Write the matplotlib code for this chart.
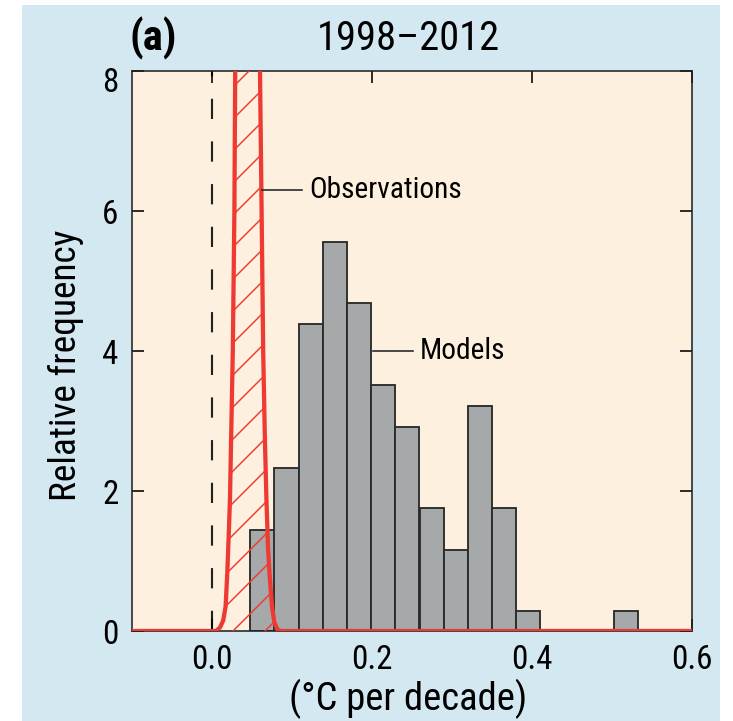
import matplotlib
matplotlib.use("Agg")
from matplotlib import pyplot
from matplotlib.patches import Rectangle
from matplotlib.transforms import ScaledTranslation
import numpy

# model histogram (bin left edges, relative frequency)
bin_left = [0.048, 0.078, 0.109, 0.139, 0.169, 0.199, 0.229, 0.260, 0.290,
            0.320, 0.350, 0.380, 0.502]
bin_width = 0.0302
model_freq = [1.45, 2.33, 4.38, 5.56, 4.69, 3.51, 2.92, 1.76, 1.16,
              3.22, 1.76, 0.29, 0.29]

# observations curve (peak clipped above 8)
obs_x = [-0.10, 0.005, 0.010, 0.014, 0.017, 0.019, 0.021, 0.0225, 0.024,
         0.026, 0.028, 0.029, 0.030, 0.031, 0.044, 0.058, 0.059, 0.060,
         0.062, 0.064, 0.066, 0.068, 0.070, 0.072, 0.075, 0.078, 0.082,
         0.086, 0.60]
obs_y = [0.0, 0.0, 0.05, 0.15, 0.35, 0.8, 1.4, 1.9, 2.8,
         4.0, 6.0, 8.0, 9.5, 12.0, 30.0, 12.0, 9.5, 8.0,
         6.0, 4.0, 2.8, 1.9, 1.2, 0.8, 0.35, 0.12, 0.02,
         0.0, 0.0]

xticks = [0.0, 0.2, 0.4, 0.6]
yticks = [0, 2, 4, 6, 8]

red = "#ee3a33"
W, H, DPI = 733, 721, 192


def main():
    pyplot.rcParams['font.family'] = ['Roboto Condensed', 'Roboto', 'DejaVu Sans']
    pyplot.rcParams['hatch.linewidth'] = 0.55
    pyplot.rcParams['hatch.color'] = red

    fig = pyplot.figure(figsize=(W / DPI, H / DPI), dpi=DPI)
    fig.patch.set_facecolor("white")
    fig.patches.append(Rectangle((22 / W, 0), (720 - 22) / W, (721 - 5) / H,
                                 transform=fig.transFigure, facecolor="#d3e8f0",
                                 edgecolor="none", zorder=-10))

    ax = fig.add_axes([132 / W, 1 - 631 / H, 560 / W, 560 / H])
    ax.set_facecolor("#fef0df")

    ax.bar(bin_left, model_freq, width=bin_width, align="edge",
           color="#a6a9aa", edgecolor="#2b2b2b", linewidth=0.7, zorder=2)

    ax.axvline(0.0, color="#222222", lw=0.8, dashes=(9.5, 10.5), zorder=1)

    ax.fill_between(obs_x, obs_y, 0, facecolor="none", hatch="//",
                    edgecolor=red, linewidth=0, zorder=3)
    ax.plot(obs_x, obs_y, color=red, lw=1.6, zorder=4, solid_joinstyle="round")

    ax.set_xlim(-0.1, 0.6)
    ax.set_ylim(0, 8)
    ax.set_xticks(xticks)
    ax.set_xticklabels(["0.0", "0.2", "0.4", "0.6"])
    ax.set_yticks(yticks)
    ax.tick_params(direction="in", length=4.5, width=0.6, labelsize=12.4,
                   top=True, right=True, pad=5)
    for s in ax.spines.values():
        s.set_linewidth(0.6)
        s.set_color("#222222")
    # top label "8" sits a bit below the frame in the original
    lab8 = ax.get_yticklabels()[-1]
    lab8.set_transform(lab8.get_transform() +
                       ScaledTranslation(0, -9 / DPI, fig.dpi_scale_trans))

    ax.set_xlabel("(°C per decade)", fontsize=14.5, labelpad=1)
    ax.xaxis.label.set_x(0.493)
    ax.set_ylabel("Relative frequency", fontsize=14, labelpad=7)
    ax.yaxis.label.set_y(0.475)

    # leader labels
    ax.plot([0.0625, 0.1125], [6.3, 6.3], color="#222222", lw=0.6, zorder=5)
    ax.text(0.122, 6.3, "Observations", fontsize=11, va="center", ha="left")
    ax.plot([0.2012, 0.2512], [4.0, 4.0], color="#222222", lw=0.6, zorder=5)
    ax.text(0.26, 4.0, "Models", fontsize=11, va="center", ha="left")

    fig.text(408 / W, 1 - 38 / H, "1998–2012", fontsize=15.2, ha="center", va="center")
    fig.text(130 / W, 1 - 38 / H, "(a)", fontsize=16, ha="left", va="center",
             fontweight="bold")

    fig.savefig("out.png", dpi=DPI)
    pyplot.close(fig)


if __name__ == '__main__':
    main()
